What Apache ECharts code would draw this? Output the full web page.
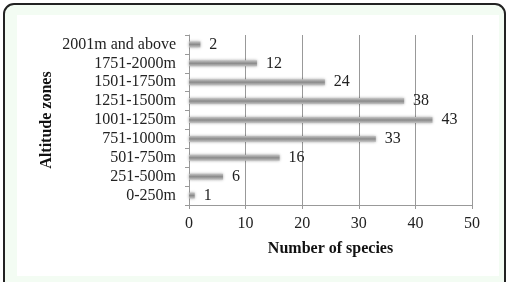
<!DOCTYPE html>
<html><head><meta charset="utf-8">
<script src="https://cdn.jsdelivr.net/npm/echarts@6/dist/echarts.min.js"></script>
<style>html,body{margin:0;padding:0;background:#fff}#c{width:510px;height:282px}</style>
</head><body><div id="c"></div>
<script>
var categories = ['0-250m','251-500m','501-750m','751-1000m','1001-1250m','1251-1500m','1501-1750m','1751-2000m','2001m and above'];
var values = [1,6,16,33,43,38,24,12,2];
var xTicks = [0,10,20,30,40,50];
var serif = '"Liberation Serif","DejaVu Serif",serif';
var chart = echarts.init(document.getElementById('c'));
chart.setOption({
  animation:false,
  backgroundColor:'#fff',
  graphic:[
    {type:'rect',shape:{x:4,y:4,width:501,height:300,r:10},style:{fill:'#f3fcf3',stroke:'#222',lineWidth:2},z:-10},
    {type:'rect',shape:{x:17,y:15,width:482,height:261},style:{fill:'#ffffff'},z:-9}
  ],
  grid:{left:189,right:38,top:35,bottom:77},
  xAxis:{type:'value',min:xTicks[0],max:xTicks[xTicks.length-1],interval:10,
    name:'Number of species',nameLocation:'middle',nameGap:36,
    nameTextStyle:{fontFamily:serif,fontWeight:'bold',fontSize:16,color:'#111'},
    axisLine:{show:true,lineStyle:{color:'#999'}},
    axisTick:{show:true,length:4,lineStyle:{color:'#999'}},
    axisLabel:{fontFamily:serif,fontSize:16,color:'#222',margin:11},
    splitLine:{show:true,lineStyle:{color:'#999'}}},
  yAxis:{type:'category',data:categories,
    name:'Altitude zones',nameLocation:'middle',nameGap:134,nameRotate:90,nameMoveOverlap:false,
    nameTextStyle:{fontFamily:serif,fontWeight:'bold',fontSize:16,color:'#111'},
    axisLine:{show:true,lineStyle:{color:'#999'}},
    axisTick:{show:true,length:4,lineStyle:{color:'#999'}},
    axisLabel:{interval:0,fontFamily:serif,fontSize:16,color:'#222',margin:13}},
  series:[{type:'bar',data:values,barWidth:6,
    itemStyle:{color:new echarts.graphic.LinearGradient(0,0,0,1,[
      {offset:0,color:'#c4c4c4'},{offset:0.5,color:'#8a8a8a'},{offset:1,color:'#c4c4c4'}]),
      shadowColor:'rgba(0,0,0,0.35)',shadowBlur:3},
    label:{show:true,position:'right',distance:9,fontFamily:serif,fontSize:16,color:'#222'}}]
});
</script></body></html>
